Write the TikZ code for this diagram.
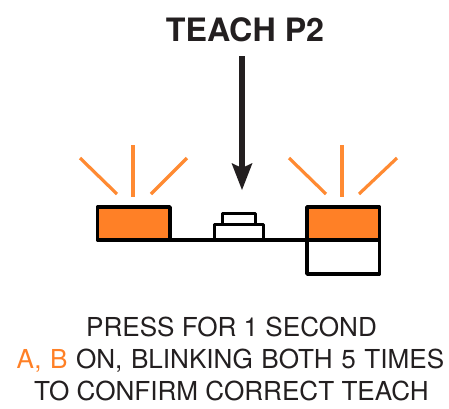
\documentclass[tikz,border=0pt]{standalone}
\usepackage{fontspec}
\setmainfont{TeX Gyre Heros}
\definecolor{ledorange}{RGB}{255,128,38}
\definecolor{inkblack}{RGB}{35,31,32}
\definecolor{rayorange}{RGB}{255,138,50}
\tikzset{
  every node/.style={inner sep=0pt,outer sep=0pt},
  wire/.style={draw=black,line width=3.8pt,line join=round},
  thinwire/.style={draw=black,line width=3pt,line join=round},
  led/.style={wire,fill=ledorange},
  ray/.style={draw=rayorange,line width=3.2pt},
  bodytext/.style={anchor=base,text=inkblack,font=\fontsize{26.1}{30}\selectfont},
  titletext/.style={anchor=base,text=inkblack,font=\fontsize{32.2}{36}\selectfont\bfseries}
}
\begin{document}
\begin{tikzpicture}[x=1pt,y=-1pt]
\useasboundingbox (0,0) rectangle (449,408);
% title and arrow
\node[titletext] (title) at (245,41) {TEACH P2};
\coordinate (armtop) at (242,56);
\coordinate (armtip) at (242,190);
\draw[draw=inkblack,line width=6pt] (armtop) -- (242,168);
\fill[inkblack] (armtip) -- (252.5,163) -- (242,168) -- (231.5,163) -- cycle;
% rays
\draw[ray] (80,158) -- (117,194);
\draw[ray] (133,145) -- (133,197);
\draw[ray] (187,158) -- (151,194);
\draw[ray] (289,158) -- (326,194);
\draw[ray] (342,145) -- (342,197);
\draw[ray] (397,158) -- (359,194);
% board line
\coordinate (ledAse) at (170,240);
\coordinate (ledBsw) at (307,240);
\draw[wire] (ledAse) -- (ledBsw);
% button
\draw[thinwire,fill=white] (222.5,224) rectangle (255,213);
\draw[thinwire,fill=white] (214,240) rectangle (263,224);
\draw[wire] (214,240) -- (263,240);
% leds
\draw[led] (97.5,207) rectangle (170,240);
\draw[wire,fill=white] (307,240) rectangle (379.5,274);
\draw[led] (307,207) rectangle (379.5,240);
% text
\node[bodytext] (l1) at (231.5,336) {PRESS FOR 1 SECOND};
\node[bodytext] (l2) at (230.5,368) {\spaceskip=8.6pt\relax\textcolor{ledorange}{A, B} ON, BLINKING BOTH 5 TIMES};
\node[bodytext] (l3) at (231.5,400) {TO CONFIRM CORRECT TEACH};
\end{tikzpicture}
\end{document}
